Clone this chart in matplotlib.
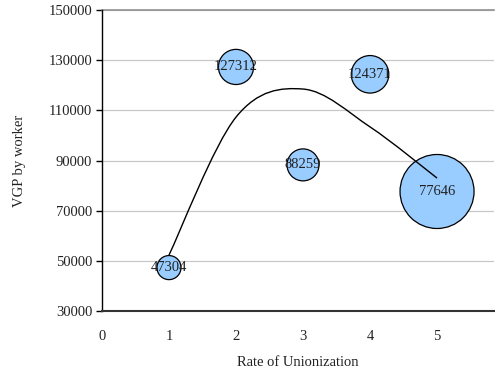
import matplotlib
matplotlib.use("Agg")
import matplotlib.pyplot as plt
from matplotlib.path import Path
from matplotlib.patches import PathPatch

# Data
rate = [1, 2, 3, 4, 5]
vgp = [47304, 127312, 88259, 124371, 77646]
bubble_size = [300, 640, 530, 730, 2840]
labels = ["47304", "127312", "88259", "124371", "77646"]

# Smoothed trend line values
trend_x = [1, 2, 3, 4, 5]
trend_y = [52300, 107300, 118500, 103400, 83000]

plt.rcParams['font.family'] = ['Liberation Serif', 'DejaVu Serif']

fig = plt.figure(figsize=(4.95, 3.72), dpi=100)
ax = fig.add_axes([0.206, 0.164, 0.792, 0.809])

ax.set_xlim(0, 5.85)
ax.set_ylim(30000, 150000)
ax.set_yticks(range(30000, 150001, 20000))
ax.set_xticks([0, 1, 2, 3, 4, 5])

ax.grid(axis='y', color='#c8c8c8', linewidth=0.9)
ax.set_axisbelow(True)
ax.axhline(150000, color='#909090', linewidth=1.2, zorder=1, clip_on=False)

ax.scatter(rate, vgp, s=bubble_size, facecolor='#99ccff', edgecolor='black',
           linewidth=0.9, zorder=3, clip_on=False)

# Smoothed line (Catmull-Rom -> cubic Bezier)
pts = list(zip(trend_x, trend_y))
verts = [pts[0]]
codes = [Path.MOVETO]
n = len(pts)
for i in range(n - 1):
    p0 = pts[i - 1] if i > 0 else pts[i]
    p1 = pts[i]
    p2 = pts[i + 1]
    p3 = pts[i + 2] if i + 2 < n else pts[i + 1]
    c1 = (p1[0] + (p2[0] - p0[0]) / 6, p1[1] + (p2[1] - p0[1]) / 6)
    c2 = (p2[0] - (p3[0] - p1[0]) / 6, p2[1] - (p3[1] - p1[1]) / 6)
    verts += [c1, c2, p2]
    codes += [Path.CURVE4] * 3
ax.add_patch(PathPatch(Path(verts, codes), facecolor='none', edgecolor='black',
                       linewidth=1.0, zorder=4))

for x, y, t in zip(rate, vgp, labels):
    ax.text(x, y, t, ha='center', va='center', fontsize=10.5, color='#222222', zorder=5)

for s in ['top', 'right']:
    ax.spines[s].set_visible(False)
ax.spines['left'].set_color('black')
ax.spines['left'].set_linewidth(1.0)
ax.spines['bottom'].set_color('#333333')
ax.spines['bottom'].set_linewidth(1.5)

ax.tick_params(axis='y', length=4, width=1, pad=3, labelsize=10.5, colors='black',
               labelcolor='#222222')
ax.tick_params(axis='x', length=0, pad=14, labelsize=10.5, labelcolor='#222222')

ax.set_xlabel('Rate of Unionization', fontsize=10.5, color='#222222', labelpad=9)
ax.set_ylabel('VGP by worker', fontsize=10.5, color='#222222', labelpad=16)

fig.savefig('out.png', dpi=100)
